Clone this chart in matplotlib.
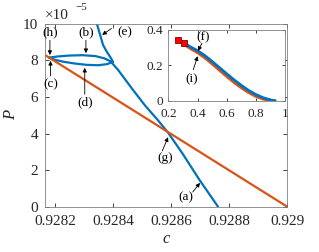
import matplotlib
matplotlib.use("Agg")
import matplotlib.pyplot as plt

plt.rcParams['font.family'] = ['Liberation Serif', 'DejaVu Serif']
plt.rcParams['mathtext.fontset'] = 'stix'

BLUE = '#0072BD'
ORANGE = '#D95319'
GREY = '#262626'

# ---- main panel data (P in units of 1e-5) ----
# blue branch from (e) down to right cusp
blue1_c = [0.928345, 0.928356, 0.928366, 0.928378, 0.928390, 0.928396, 0.928400]
blue1_P = [10.0, 9.40, 8.85, 8.50, 8.21, 8.05, 7.92]
# lower branch (d) from right cusp back to left point
blue2_c = [0.928400, 0.928380, 0.928350, 0.928310, 0.928270, 0.928230, 0.928200, 0.928180]
blue2_P = [7.92, 7.80, 7.74, 7.76, 7.83, 7.93, 8.04, 8.16]
# upper branch (b) from left point, then down through (g) and (a)
blue3_c = [0.928180, 0.928210, 0.928250, 0.928295, 0.928340, 0.928370, 0.928392,
           0.928418, 0.928469, 0.928510, 0.928554, 0.928590, 0.928640, 0.928700, 0.928762]
blue3_P = [8.16, 8.22, 8.27, 8.29, 8.24, 8.12, 7.95,
           7.48, 6.39, 5.55, 4.75, 4.05, 2.90, 1.42, 0.0]
# orange straight line
orange_c = [0.928166, 0.928590, 0.929000]
orange_P = [8.30, 4.08, 0.0]

# ---- inset data ----
in_blue_x = [0.31, 0.35, 0.40, 0.45, 0.50, 0.55, 0.60, 0.65, 0.70, 0.75, 0.80, 0.85, 0.90, 0.93]
in_blue_y = [0.325, 0.305, 0.283, 0.255, 0.222, 0.187, 0.152, 0.118, 0.087, 0.058, 0.035, 0.017, 0.005, 0.0]
in_orange_x = [0.31, 0.35, 0.40, 0.45, 0.50, 0.55, 0.60, 0.65, 0.70, 0.75, 0.80, 0.85, 0.90, 0.925]
in_orange_y = [0.318, 0.296, 0.272, 0.243, 0.209, 0.173, 0.138, 0.104, 0.074, 0.047, 0.025, 0.010, 0.002, 0.0]
sq_x = [0.264, 0.308]
sq_y = [0.341, 0.326]

xticks = [0.9282, 0.9284, 0.9286, 0.9288, 0.929]
xticklabels = ['0.9282', '0.9284', '0.9286', '0.9288', '0.929']
yticks = [0, 2, 4, 6, 8, 10]
yticklabels = ['0', '2', '4', '6', '8', '10']
in_xticks = [0.2, 0.4, 0.6, 0.8, 1.0]
in_xticklabels = ['0.2', '0.4', '0.6', '0.8', '1']
in_yticks = [0, 0.2, 0.4]
in_yticklabels = ['0', '0.2', '0.4']

fig = plt.figure(figsize=(3.19, 2.52), dpi=100)
ax = fig.add_axes([0.141, 0.180, 0.759, 0.725])

for cc, pp in [(blue1_c, blue1_P), (blue2_c, blue2_P), (blue3_c, blue3_P)]:
    ax.plot(cc, pp, color=BLUE, lw=1.6, solid_joinstyle='round', solid_capstyle='round')
ax.plot(orange_c, orange_P, color=ORANGE, lw=1.6)

ax.set_xlim(0.928166, 0.929)
ax.set_ylim(0, 10)
ax.set_xticks(xticks)
ax.set_xticklabels(xticklabels)
ax.set_yticks(yticks)
ax.set_yticklabels(yticklabels)
ax.tick_params(direction='in', length=3, width=0.6, labelsize=11, colors=GREY,
               top=True, right=True)
ax.tick_params(axis='x', pad=6)
ax.tick_params(axis='y', pad=5)
for s in ax.spines.values():
    s.set_linewidth(0.6)
    s.set_color('#808080')
ax.set_xlabel('c', fontsize=12, color=GREY, fontstyle='italic', labelpad=2)
ax.set_ylabel('P', fontsize=12, color=GREY, fontstyle='italic', labelpad=3)
ax.text(0.0, 1.01, '×10', transform=ax.transAxes, fontsize=11, color=GREY,
        ha='left', va='bottom')
ax.text(0.125, 1.065, '−5', transform=ax.transAxes, fontsize=8, color=GREY,
        ha='left', va='bottom')

arrow = dict(arrowstyle='-|>', lw=0.6, color='k', mutation_scale=6, shrinkA=0, shrinkB=0)
lab_fs = 9.5
# (label, text pos (c,P), arrow tail (c,P), arrow tip (c,P))
annots = [
    ('(h)', (0.928183, 9.55), (0.928183, 9.10), (0.928183, 8.30)),
    ('(c)', (0.928185, 6.70), (0.928185, 7.15), (0.928185, 7.98)),
    ('(b)', (0.928307, 9.55), (0.928307, 9.10), (0.928307, 8.40)),
    ('(d)', (0.928303, 5.70), (0.928303, 6.15), (0.928303, 7.60)),
]
for lab, tp, tail, tip in annots:
    ax.text(tp[0], tp[1], lab, fontsize=lab_fs, ha='center', va='center')
    ax.annotate('', xy=tip, xytext=tail, arrowprops=arrow)

ax.text(0.928440, 9.55, '(e)', fontsize=lab_fs, ha='center', va='center')
ax.annotate('', xy=(0.928363, 9.40), xytext=(0.928395, 9.75), arrowprops=arrow)
ax.text(0.928580, 2.65, '(g)', fontsize=lab_fs, ha='center', va='center')
ax.annotate('', xy=(0.928590, 3.80), xytext=(0.928570, 3.05), arrowprops=arrow)
ax.text(0.928650, 0.50, '(a)', fontsize=lab_fs, ha='center', va='center')
ax.annotate('', xy=(0.928700, 1.30), xytext=(0.928675, 0.80), arrowprops=arrow)

# ---- inset ----
axi = fig.add_axes([0.528, 0.600, 0.366, 0.281])
axi.plot(in_orange_x, in_orange_y, color=ORANGE, lw=2.2)
axi.plot(in_blue_x, in_blue_y, color=BLUE, lw=2.0)
axi.plot(sq_x, sq_y, linestyle='none', marker='s', ms=4.5, mfc='#FF0000',
         mec='#8B0000', mew=0.6)
axi.set_xlim(0.2, 1.0)
axi.set_ylim(0, 0.4)
axi.set_xticks(in_xticks)
axi.set_xticklabels(in_xticklabels)
axi.set_yticks(in_yticks)
axi.set_yticklabels(in_yticklabels)
axi.tick_params(direction='in', length=2.5, width=0.6, labelsize=9.5, colors=GREY,
                top=True, right=True)
axi.tick_params(axis='x', pad=5)
axi.tick_params(axis='y', pad=3.5)
for s in axi.spines.values():
    s.set_linewidth(0.6)
    s.set_color('#808080')
axi.text(0.44, 0.36, '(f)', fontsize=lab_fs, ha='center', va='center')
axi.annotate('', xy=(0.402, 0.282), xytext=(0.43, 0.325), arrowprops=arrow)
axi.text(0.36, 0.12, '(i)', fontsize=lab_fs, ha='center', va='center')
axi.annotate('', xy=(0.40, 0.252), xytext=(0.37, 0.175), arrowprops=arrow)

fig.savefig('out.png', dpi=100)
